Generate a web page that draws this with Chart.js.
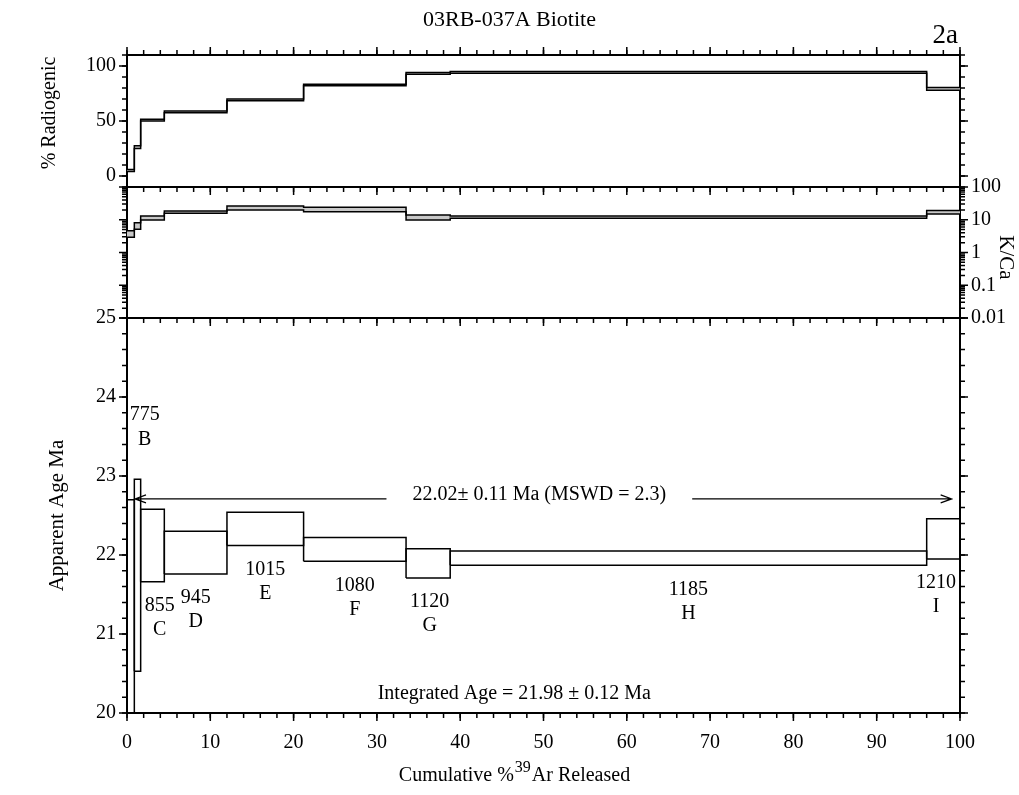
<!DOCTYPE html>
<html>
<head>
<meta charset="utf-8">
<title>03RB-037A Biotite</title>
<script src="https://cdn.jsdelivr.net/npm/chart.js@4.4.0/dist/chart.umd.min.js"></script>
<style>
  html, body { margin: 0; padding: 0; background: #fff; }
</style>
</head>
<body>
<canvas id="chart" width="1019" height="795"></canvas>
<script>
// heating steps: cumulative % 39Ar released at each step boundary
const stepEdges = [0, 0.88, 1.64, 4.48, 12.0, 21.2, 33.5, 38.8, 96.0, 100];
const stepLetters = ['A', 'B', 'C', 'D', 'E', 'F', 'G', 'H', 'I'];
const stepTemps = ['', '775', '855', '945', '1015', '1080', '1120', '1185', '1210'];

// % radiogenic band (low / high) per step
const radLow  = [4.0, 25.0, 50.0, 57.5, 68.5, 82.0, 92.6, 93.4, 78.0];
const radHigh = [6.0, 27.5, 51.5, 59.0, 70.0, 83.5, 94.0, 95.0, 80.5];

// K/Ca band (low / high) per step
const kcaLow  = [2.9, 5.1, 9.8, 15.8, 19.8, 17.6, 9.8, 11.2, 15.0];
const kcaHigh = [4.6, 8.1, 13.0, 18.5, 26.3, 24.0, 14.0, 13.0, 19.0];

// apparent age boxes (Ma) per step
const ageLow  = [15.5, 20.53, 21.66, 21.76, 22.12, 21.92, 21.71, 21.87, 21.95];
const ageHigh = [22.70, 22.96, 22.58, 22.30, 22.54, 22.22, 22.08, 22.05, 22.46];

// tick labels
const xTicks = [0, 10, 20, 30, 40, 50, 60, 70, 80, 90, 100];
const radTicks = [0, 50, 100];
const kcaTicks = [0.01, 0.1, 1, 10, 100];
const ageTicks = [20, 21, 22, 23, 24, 25];

// plateau / integrated age annotations
const plateauAge = 22.71;
const plateauSpan = [0.96, 99.0];
const plateauLabelX = 49.5;
const plateauText = '22.02\u00b1 0.11 Ma (MSWD = 2.3)';
const integratedPos = [46.5, 20.25];
const integratedText = 'Integrated Age = 21.98 \u00b1 0.12 Ma';

const serif = '"Liberation Serif", "Times New Roman", Times, serif';
Chart.defaults.font.family = serif;
Chart.defaults.font.size = 20;
Chart.defaults.color = '#000';

const GRAY = '#c8c8c8';
const MAJOR = 8, MINOR = 5;

function range(a, b, step) {
    const out = [];
    for (let v = a; v <= b + 1e-9; v += step) out.push(+v.toFixed(4));
    return out;
}
const xMinor = range(0, 100, 2);
const radMinor = range(-10, 110, 10);
const ageMinor = range(20, 25, 0.2);
const kcaMinor = kcaTicks.slice(0, -1).flatMap(d => [2, 3, 4, 5, 6, 7, 8, 9].map(m => +(d * m).toPrecision(3)));

// step line through the band edges (value holds until next edge)
function stepPoints(vals) {
    const pts = vals.map((v, i) => ({ x: stepEdges[i], y: v }));
    pts.push({ x: stepEdges[stepEdges.length - 1], y: vals[vals.length - 1] });
    return pts;
}

function bandPair(lo, hi, axisId) {
    const base = { yAxisID: axisId, showLine: true, stepped: 'before', borderColor: '#000', borderWidth: 1.5, pointRadius: 0 };
    return [
        Object.assign({ data: stepPoints(hi), fill: false }, base),
        Object.assign({ data: stepPoints(lo), fill: '-1', backgroundColor: GRAY }, base)
    ];
}

const ageBoxes = stepLetters.map((s, i) => {
    const x0 = stepEdges[i], x1 = stepEdges[i + 1];
    return {
        label: s,
        data: [{ x: x0, y: ageLow[i] }, { x: x1, y: ageLow[i] }, { x: x1, y: ageHigh[i] }, { x: x0, y: ageHigh[i] }, { x: x0, y: ageLow[i] }],
        yAxisID: 'yAge', showLine: true, borderColor: '#000', borderWidth: 1.5, pointRadius: 0, fill: false
    };
});

function fixWidth(w) { return scale => { scale.width = w; }; }
function fixHeight(h) { return scale => { scale.height = h; }; }
function setTicks(values) { return scale => { scale.ticks = values.map(v => ({ value: v })); }; }

function yAxis(pos, stack, weight, extra) {
    return Object.assign({
        position: pos, stack: stack, stackWeight: weight,
        afterFit: fixWidth(pos === 'left' ? 127 : 59),
        grid: { display: false, drawTicks: false },
        border: { display: true, color: '#000', width: 2 },
        ticks: { display: false }
    }, extra);
}

function tickRun(ctx, scale, values, len, edge, dir) {
    ctx.beginPath();
    values.forEach(v => {
        const p = scale.getPixelForValue(v);
        if (scale.isHorizontal()) { ctx.moveTo(p, edge); ctx.lineTo(p, edge + dir * len); }
        else { ctx.moveTo(edge, p); ctx.lineTo(edge + dir * len, p); }
    });
    ctx.stroke();
}

const figureDecor = {
    id: 'figureDecor',
    afterDraw(chart) {
        const { ctx, chartArea: area, scales } = chart;
        const { x, yRad, yKca, yAge, yRadR, yKcaR, yAgeR } = scales;
        ctx.save();
        ctx.strokeStyle = '#000';
        ctx.fillStyle = '#000';

        // panel dividers
        ctx.lineWidth = 2;
        [yKca.top, yAge.top].forEach(yy => {
            ctx.beginPath(); ctx.moveTo(area.left, yy); ctx.lineTo(area.right, yy); ctx.stroke();
        });

        // tick marks
        ctx.lineWidth = 1.5;
        [[area.top, -1], [yKca.top, 1], [yAge.top, 1], [area.bottom, 1]].forEach(([edge, dir]) => {
            tickRun(ctx, x, xMinor, MINOR, edge, dir);
            tickRun(ctx, x, xTicks, MAJOR, edge, dir);
        });
        [[area.left, -1, yRad, yKca, yAge], [area.right, 1, yRadR, yKcaR, yAgeR]].forEach(([edge, dir, r, k, a]) => {
            tickRun(ctx, r, radMinor, MINOR, edge, dir);
            tickRun(ctx, r, radTicks, MAJOR, edge, dir);
            tickRun(ctx, k, kcaMinor, MINOR, edge, dir);
            tickRun(ctx, k, kcaTicks, MAJOR, edge, dir);
            tickRun(ctx, a, ageMinor, MINOR, edge, dir);
            tickRun(ctx, a, ageTicks, MAJOR, edge, dir);
        });

        // plateau arrow
        const py = yAge.getPixelForValue(plateauAge);
        const ax0 = x.getPixelForValue(plateauSpan[0]);
        const ax1 = x.getPixelForValue(plateauSpan[1]);
        const tx = x.getPixelForValue(plateauLabelX);
        ctx.font = '20px ' + serif;
        const half = ctx.measureText(plateauText).width / 2;
        ctx.lineWidth = 1.2;
        ctx.beginPath();
        ctx.moveTo(ax0, py); ctx.lineTo(tx - half - 26, py);
        ctx.moveTo(tx + half + 26, py); ctx.lineTo(ax1, py);
        ctx.moveTo(ax0 + 11, py - 4); ctx.lineTo(ax0, py); ctx.lineTo(ax0 + 11, py + 4);
        ctx.moveTo(ax1 - 11, py - 4); ctx.lineTo(ax1, py); ctx.lineTo(ax1 - 11, py + 4);
        ctx.stroke();
        ctx.textAlign = 'center';
        ctx.textBaseline = 'middle';
        ctx.fillText(plateauText, tx, py - 4);

        ctx.fillText(integratedText, x.getPixelForValue(integratedPos[0]), yAge.getPixelForValue(integratedPos[1]));

        // step labels
        stepTemps.forEach((t, i) => {
            if (!t) return;
            const x0 = x.getPixelForValue(stepEdges[i]);
            const x1 = x.getPixelForValue(stepEdges[i + 1]);
            const w = ctx.measureText(t).width;
            if (ageLow[i] < 21) {
                const top = yAge.getPixelForValue(ageHigh[i]);
                ctx.fillText(t, x1 + 4, top - 64);
                ctx.fillText(stepLetters[i], x1 + 4, top - 39);
            } else {
                const bot = yAge.getPixelForValue(ageLow[i]);
                let cx = (x0 + x1) / 2;
                cx = Math.max(cx, x0 + 4 + w / 2);
                cx = Math.min(cx, area.right - 4 - w / 2);
                ctx.fillText(t, cx, bot + 24);
                ctx.fillText(stepLetters[i], cx, bot + 48);
            }
        });

        // titles
        ctx.font = '22px ' + serif;
        ctx.fillText('03RB-037A Biotite', chart.width / 2, 20);
        ctx.font = '27px ' + serif;
        ctx.textAlign = 'right';
        ctx.fillText('2a', area.right - 2, 36);

        ctx.font = '20px ' + serif;
        ctx.textAlign = 'center';
        ctx.save();
        ctx.translate(50, 113);
        ctx.rotate(-Math.PI / 2);
        ctx.fillText('% Radiogenic', 0, 0);
        ctx.restore();
        ctx.font = '21px ' + serif;
        ctx.save();
        ctx.translate(57, (yAge.top + yAge.bottom) / 2);
        ctx.rotate(-Math.PI / 2);
        ctx.fillText('Apparent Age Ma', 0, 0);
        ctx.restore();
        ctx.save();
        ctx.translate(1006, (yKca.top + yKca.bottom) / 2 + 5);
        ctx.rotate(Math.PI / 2);
        ctx.fillText('K/Ca', 0, 0);
        ctx.restore();

        // x title with superscript 39
        const p1 = 'Cumulative %', sup = '39', p2 = 'Ar Released';
        ctx.font = '20px ' + serif;
        const w1 = ctx.measureText(p1).width, w3 = ctx.measureText(p2).width;
        ctx.font = '16px ' + serif;
        const w2 = ctx.measureText(sup).width;
        let cx = chart.width / 2 + 5 - (w1 + w2 + w3 + 2) / 2;
        const ty = 781;
        ctx.textAlign = 'left';
        ctx.textBaseline = 'alphabetic';
        ctx.font = '20px ' + serif;
        ctx.fillText(p1, cx, ty);
        cx += w1 + 1;
        ctx.font = '16px ' + serif;
        ctx.fillText(sup, cx, ty - 9);
        cx += w2 + 1;
        ctx.font = '20px ' + serif;
        ctx.fillText(p2, cx, ty);
        ctx.restore();
    }
};

new Chart(document.getElementById('chart'), {
    type: 'scatter',
    data: {
        datasets: [
            ...bandPair(radLow, radHigh, 'yRad'),
            ...bandPair(kcaLow, kcaHigh, 'yKca'),
            ...ageBoxes
        ]
    },
    options: {
        responsive: false,
        animation: false,
        devicePixelRatio: 1,
        layout: { padding: 0 },
        plugins: { legend: { display: false }, tooltip: { enabled: false } },
        scales: {
            x: {
                type: 'linear', position: 'bottom', min: 0, max: 100,
                afterFit: fixHeight(82),
                afterBuildTicks: setTicks(xTicks),
                grid: { display: false, drawTicks: false },
                border: { display: true, color: '#000', width: 2 },
                ticks: { padding: 18, maxRotation: 0, autoSkip: false, callback: v => v }
            },
            xTop: {
                type: 'linear', position: 'top', min: 0, max: 100,
                afterFit: fixHeight(55),
                grid: { display: false, drawTicks: false },
                border: { display: true, color: '#000', width: 2 },
                ticks: { display: false }
            },
            // left stack: listed bottom to top
            yAge: yAxis('left', 'L', 395, {
                type: 'linear', min: 20, max: 25,
                afterBuildTicks: setTicks(ageTicks),
                ticks: { display: true, padding: 11, autoSkip: false, callback: v => v }
            }),
            yKca: yAxis('left', 'L', 131, { type: 'logarithmic', min: 0.01, max: 100 }),
            yRad: yAxis('left', 'L', 132, {
                type: 'linear', min: -10, max: 110,
                afterBuildTicks: setTicks(radTicks),
                ticks: { display: true, padding: 11, autoSkip: false, callback: v => v }
            }),
            // right stack: listed top to bottom
            yRadR: yAxis('right', 'R', 132, { type: 'linear', min: -10, max: 110 }),
            yKcaR: yAxis('right', 'R', 131, {
                type: 'logarithmic', min: 0.01, max: 100,
                afterBuildTicks: setTicks(kcaTicks),
                ticks: { display: true, padding: 11, autoSkip: false, callback: v => String(v) }
            }),
            yAgeR: yAxis('right', 'R', 395, { type: 'linear', min: 20, max: 25 })
        }
    },
    plugins: [figureDecor]
});
</script>
</body>
</html>
